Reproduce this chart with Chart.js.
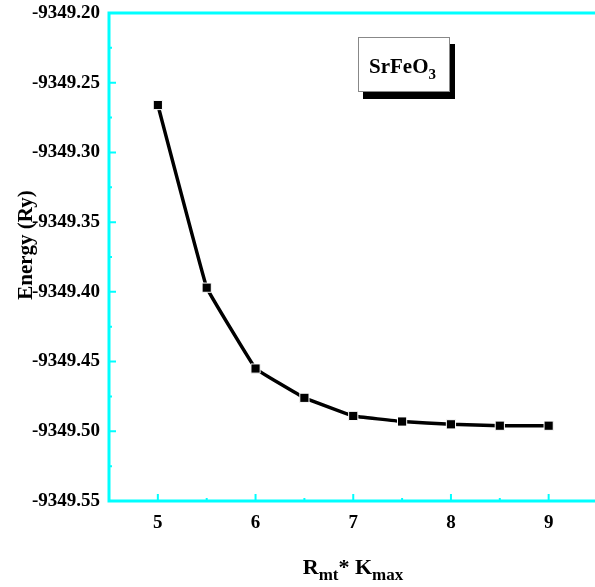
<!DOCTYPE html>
<html>
<head>
<meta charset="utf-8">
<script src="https://cdn.jsdelivr.net/npm/chart.js@4.4.1/dist/chart.umd.min.js"></script>
<style>
  html, body { margin: 0; padding: 0; background: #fff; overflow: hidden; }
  #wrap { width: 605px; height: 587px; }
</style>
</head>
<body>
<div id="wrap"><canvas id="energyChart" width="605" height="587"></canvas></div>
<script>
// values
const rkmax = [5, 5.5, 6, 6.5, 7, 7.5, 8, 8.5, 9];
const energy = [-9349.266, -9349.397, -9349.455, -9349.476, -9349.489, -9349.493, -9349.495, -9349.496, -9349.496];
const xTicks = [5, 6, 7, 8, 9];
const yTicks = [-9349.20, -9349.25, -9349.30, -9349.35, -9349.40, -9349.45, -9349.50, -9349.55];

const AXIS = '#00ffff';
const FONT = '"Liberation Serif", "Times New Roman", serif';

// cyan frame with inward major/minor ticks, legend box, axis titles
const framePlugin = {
    id: 'frame',
    afterDraw(chart) {
        const ctx = chart.ctx;
        const a = chart.chartArea;
        const xs = chart.scales.x, ys = chart.scales.y;
        ctx.save();
        ctx.strokeStyle = AXIS;
        ctx.lineWidth = 3;
        ctx.beginPath();
        ctx.moveTo(a.left, a.top); ctx.lineTo(a.right, a.top);
        ctx.moveTo(a.left, a.top - 1.5); ctx.lineTo(a.left, a.bottom + 1.5);
        ctx.moveTo(a.left, a.bottom); ctx.lineTo(a.right, a.bottom);
        ctx.stroke();

        ctx.lineWidth = 2;
        ctx.beginPath();
        for (let v = 4.5; v <= 9.5; v += 0.5) {
            const px = xs.getPixelForValue(v);
            const len = Number.isInteger(v) ? 7 : 3;
            ctx.moveTo(px, a.bottom); ctx.lineTo(px, a.bottom - len);
        }
        for (let i = 0; i < yTicks.length; i++) {
            const py = ys.getPixelForValue(yTicks[i]);
            ctx.moveTo(a.left, py); ctx.lineTo(a.left + 7, py);
            if (i < yTicks.length - 1) {
                const pm = ys.getPixelForValue((yTicks[i] + yTicks[i + 1]) / 2);
                ctx.moveTo(a.left, pm); ctx.lineTo(a.left + 3, pm);
            }
        }
        ctx.stroke();

        // legend box
        ctx.fillStyle = '#000';
        ctx.fillRect(363, 44, 92, 55);
        ctx.fillStyle = '#fff';
        ctx.fillRect(358, 37, 92, 55);
        ctx.strokeStyle = '#888';
        ctx.lineWidth = 1;
        ctx.strokeRect(358.5, 37.5, 91, 54);
        ctx.fillStyle = '#000';
        ctx.textBaseline = 'alphabetic';
        ctx.font = 'bold 21px ' + FONT;
        ctx.fillText('SrFeO', 369, 73);
        let w = ctx.measureText('SrFeO').width;
        ctx.font = 'bold 15px ' + FONT;
        ctx.fillText('3', 369 + w, 79);

        // y axis title, overlapping the tick labels as in the original
        ctx.save();
        ctx.translate(32, 245);
        ctx.rotate(-Math.PI / 2);
        ctx.font = 'bold 21px ' + FONT;
        ctx.textAlign = 'center';
        ctx.fillText('Energy (Ry)', 0, 0);
        ctx.restore();

        // x axis title: R_mt* K_max
        const parts = [['R', 22, 0], ['mt', 17, 6], ['* K', 22, 0], ['max', 17, 6]];
        let total = 0;
        parts.forEach(p => { ctx.font = 'bold ' + p[1] + 'px ' + FONT; total += ctx.measureText(p[0]).width; });
        let x = 353 - total / 2;
        parts.forEach(p => {
            ctx.font = 'bold ' + p[1] + 'px ' + FONT;
            ctx.fillText(p[0], x, 574 + p[2]);
            x += ctx.measureText(p[0]).width;
        });
        ctx.restore();
    }
};

const ctx = document.getElementById('energyChart').getContext('2d');
new Chart(ctx, {
    type: 'line',
    data: {
        datasets: [{
            data: rkmax.map((v, i) => ({ x: v, y: energy[i] })),
            borderColor: '#000',
            backgroundColor: '#000',
            borderWidth: 3.5,
            tension: 0.05,
            pointStyle: 'rect',
            pointRadius: 6.5,
            pointBorderWidth: 1,
            pointBorderColor: '#fff',
            pointBackgroundColor: '#000'
        }]
    },
    options: {
        responsive: false,
        animation: false,
        layout: { padding: { top: 13, right: 3, left: 0, bottom: 0 } },
        plugins: { legend: { display: false }, tooltip: { enabled: false } },
        scales: {
            x: {
                type: 'linear',
                min: 4.5,
                max: 9.5,
                afterBuildTicks: s => { s.ticks = xTicks.map(v => ({ value: v })); },
                afterFit: s => { s.height = 86; s.paddingLeft = 0; s.paddingRight = 0; },
                grid: { display: false, drawTicks: false },
                border: { display: false },
                ticks: {
                    color: '#000',
                    padding: 11,
                    font: { family: FONT, size: 19, weight: 'bold' }
                }
            },
            y: {
                min: -9349.55,
                max: -9349.20,
                afterBuildTicks: s => { s.ticks = yTicks.map(v => ({ value: v })); },
                afterFit: s => { s.width = 109; s.paddingTop = 0; s.paddingBottom = 0; },
                grid: { display: false, drawTicks: false },
                border: { display: false },
                ticks: {
                    color: '#000',
                    padding: 9,
                    font: { family: FONT, size: 19, weight: 'bold' },
                    callback: v => v.toFixed(2)
                }
            }
        }
    },
    plugins: [framePlugin]
});
</script>
</body>
</html>
